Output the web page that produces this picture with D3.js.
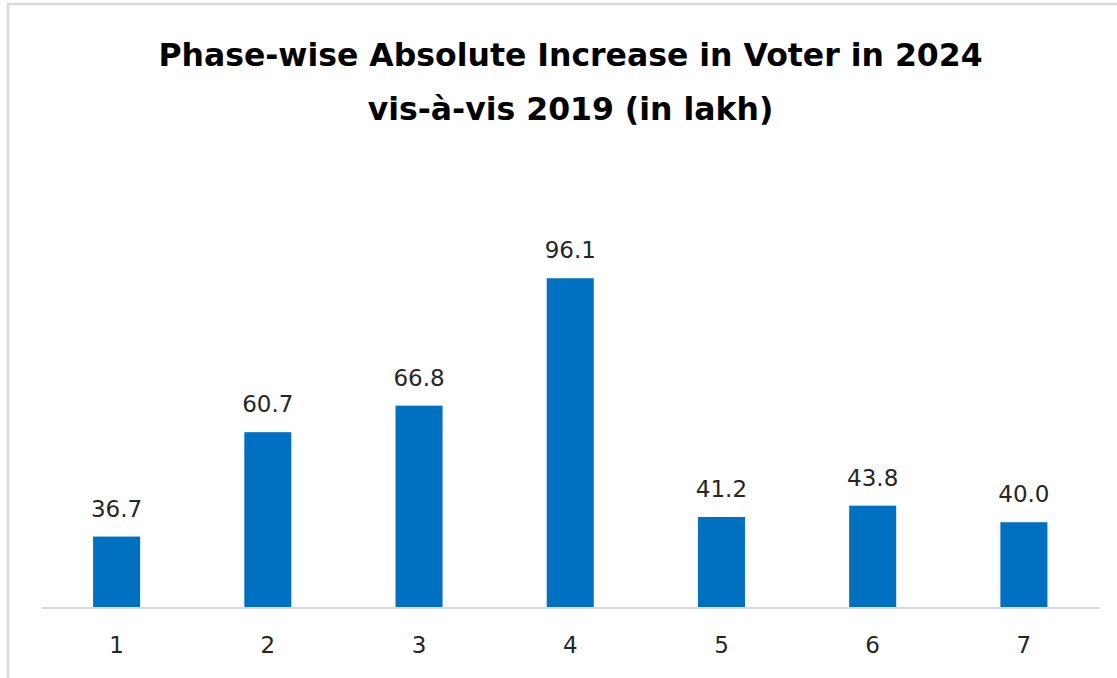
<!DOCTYPE html>
<html>
<head>
<meta charset="utf-8">
<script src="https://cdn.jsdelivr.net/npm/d3@7"></script>
<style>
  html, body { margin: 0; padding: 0; background: #fff; }
  svg { display: block; }
</style>
</head>
<body>
<svg id="chart" width="1117" height="678"></svg>
<script>
const phases = ["1", "2", "3", "4", "5", "6", "7"];
const increase = [36.7, 60.7, 66.8, 96.1, 41.2, 43.8, 40.0];
const titleLines = ["Phase-wise Absolute Increase in Voter in 2024", "vis-à-vis 2019 (in lakh)"];
const yDomain = [20.5, 100];

const svg = d3.select("#chart");
const W = 1117, H = 678;
const labelFont = "DejaVu Sans, Verdana, sans-serif";

// outer chart border
svg.append("rect")
  .attr("x", 8).attr("y", 4)
  .attr("width", W + 10).attr("height", H + 10)
  .attr("fill", "#fff")
  .attr("stroke", "#d9d9d9")
  .attr("stroke-width", 2.5);

const plot = { left: 41, right: 1099.5, bottom: 607, top: 261.3 };

const x = d3.scaleBand()
  .domain(phases)
  .range([plot.left, plot.right])
  .paddingInner(0.689)
  .paddingOuter(0.689 / 2);

const y = d3.scaleLinear()
  .domain(yDomain)
  .range([plot.bottom, plot.top]);

const data = phases.map((p, i) => ({ phase: p, value: increase[i] }));

// bars
svg.append("g").selectAll("rect")
  .data(data)
  .join("rect")
  .attr("x", d => x(d.phase))
  .attr("y", d => y(d.value))
  .attr("width", x.bandwidth())
  .attr("height", d => y(yDomain[0]) - y(d.value))
  .attr("fill", "#0070c0");

// baseline / x axis
const xAxis = d3.axisBottom(x).tickSize(0).tickPadding(29);
const gx = svg.append("g")
  .attr("transform", `translate(0,${plot.bottom + 0.5})`)
  .call(xAxis);
gx.select(".domain").attr("stroke", "#d9d9d9").attr("stroke-width", 2);
gx.selectAll("text")
  .attr("font-family", labelFont)
  .attr("font-size", 23)
  .attr("fill", "#262626");

// value labels
svg.append("g").selectAll("text")
  .data(data)
  .join("text")
  .attr("x", d => x(d.phase) + x.bandwidth() / 2)
  .attr("y", d => y(d.value) - 20)
  .attr("text-anchor", "middle")
  .attr("font-family", labelFont)
  .attr("font-size", 23)
  .attr("fill", "#262626")
  .text(d => d.value.toFixed(1));

// title
svg.append("g").selectAll("text")
  .data(titleLines)
  .join("text")
  .attr("x", 570.5)
  .attr("y", (d, i) => 66 + i * 54)
  .attr("text-anchor", "middle")
  .attr("font-family", labelFont)
  .attr("font-weight", "bold")
  .attr("font-size", 31.5)
  .attr("fill", "#000")
  .text(d => d);
</script>
</body>
</html>
